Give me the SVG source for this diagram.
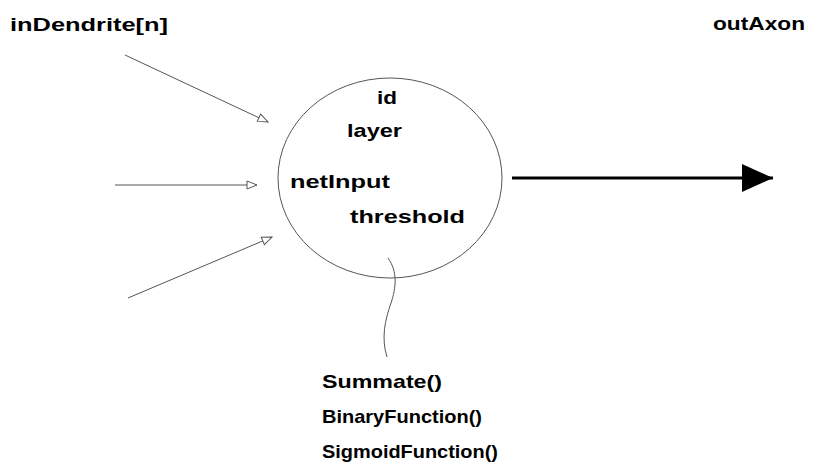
<svg xmlns="http://www.w3.org/2000/svg" width="816" height="472" viewBox="0 0 816 472">
<defs>
<style>
.t{font-family:"Liberation Sans",Arial,sans-serif;font-weight:bold;font-size:19px;fill:#000}
.in{stroke:#555;stroke-width:1;fill:none;marker-end:url(#open)}
</style>
<marker id="open" markerWidth="12" markerHeight="10" refX="11" refY="5" orient="auto" markerUnits="userSpaceOnUse">
<path d="M1,1 L11,5 L1,9 Z" fill="#fff" stroke="#555" stroke-width="1"/>
</marker>
<marker id="solid" markerWidth="32" markerHeight="28" refX="31" refY="14" orient="auto" markerUnits="userSpaceOnUse">
<path d="M0,0 L31,14 L0,28 Z" fill="#000"/>
</marker>
</defs>
<rect width="816" height="472" fill="#fff"/>
<g id="neuron">
<ellipse cx="390" cy="178" rx="112" ry="100" fill="none" stroke="#555" stroke-width="1"/>
<text class="t" x="377" y="104" textLength="20" lengthAdjust="spacingAndGlyphs">id</text>
<text class="t" x="347" y="137" textLength="55" lengthAdjust="spacingAndGlyphs">layer</text>
<text class="t" x="290" y="188" textLength="100" lengthAdjust="spacingAndGlyphs">netInput</text>
<text class="t" x="350" y="223" textLength="115" lengthAdjust="spacingAndGlyphs">threshold</text>
</g>
<g id="inDendrite">
<text class="t" x="10" y="31" textLength="158" lengthAdjust="spacingAndGlyphs">inDendrite[n]</text>
</g>
<g id="outAxon">
<text class="t" x="713" y="30" textLength="92" lengthAdjust="spacingAndGlyphs">outAxon</text>
</g>
<g id="functions">
<text class="t" x="322" y="388" textLength="120" lengthAdjust="spacingAndGlyphs">Summate()</text>
<text class="t" x="322" y="423" textLength="160" lengthAdjust="spacingAndGlyphs">BinaryFunction()</text>
<text class="t" x="322" y="458" textLength="176" lengthAdjust="spacingAndGlyphs">SigmoidFunction()</text>
</g>
<g id="connectors">
<line class="in" x1="125" y1="55" x2="268" y2="122"/>
<line class="in" x1="115" y1="185" x2="257" y2="185"/>
<line class="in" x1="128" y1="298" x2="272" y2="237"/>
<line x1="512" y1="178" x2="773" y2="178" stroke="#000" stroke-width="3" marker-end="url(#solid)"/>
<path d="M388,258 C398,272 396,288 391,303 C385,320 381,338 387,357" fill="none" stroke="#555" stroke-width="1"/>
</g>
</svg>
